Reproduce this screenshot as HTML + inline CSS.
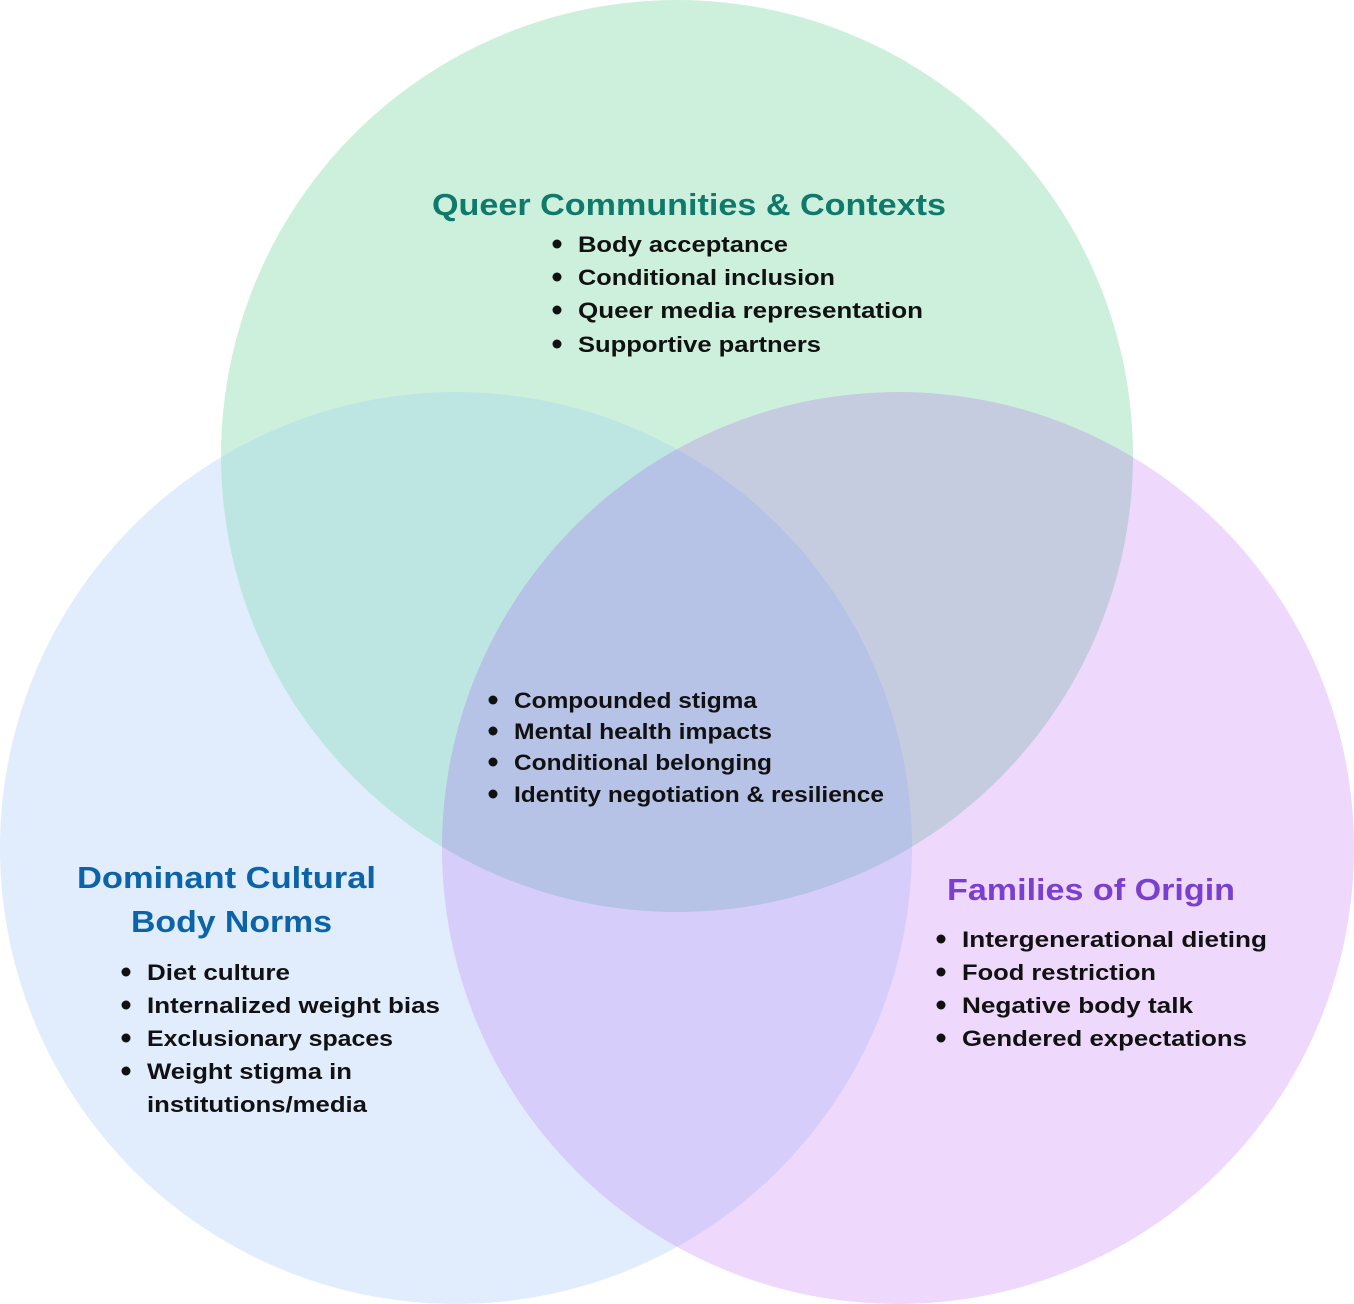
<!DOCTYPE html>
<html><head><meta charset="utf-8"><style>
html,body{margin:0;padding:0;background:#fff;}
svg{display:block;}
text{font-family:"Liberation Sans",sans-serif;font-weight:bold;}
.i{font-size:22px;fill:#111;}
.b{font-size:22px;fill:#111;}
</style></head><body>
<svg width="1354" height="1304" viewBox="0 0 1354 1304" xmlns="http://www.w3.org/2000/svg">
<defs>
<clipPath id="cT"><circle cx="677" cy="456" r="456"/></clipPath>
<clipPath id="cL"><circle cx="456" cy="848" r="456"/></clipPath>
<clipPath id="cR"><circle cx="898" cy="848" r="456"/></clipPath>
</defs>
<circle cx="677" cy="456" r="456" fill="#cdf0dd"/>
<circle cx="456" cy="848" r="456" fill="#e1edfc"/>
<circle cx="898" cy="848" r="456" fill="#eed9fc"/>
<g clip-path="url(#cL)"><circle cx="898" cy="848" r="456" fill="#d7cdfb"/></g>
<g clip-path="url(#cT)"><circle cx="456" cy="848" r="456" fill="#bde6e2"/></g>
<g clip-path="url(#cT)"><circle cx="898" cy="848" r="456" fill="#c5cce0"/></g>
<g clip-path="url(#cT)"><g clip-path="url(#cL)"><circle cx="898" cy="848" r="456" fill="#b6c2e6"/></g></g>

<g lengthAdjust="spacingAndGlyphs">
<text x="432" y="215" font-size="31" fill="#0f7a6b" textLength="514" lengthAdjust="spacingAndGlyphs">Queer Communities &amp; Contexts</text>
<g class="i">
<circle cx="557" cy="244" r="4.5" fill="#111"/><text x="578" y="252" class="b" textLength="210" lengthAdjust="spacingAndGlyphs">Body acceptance</text>
<circle cx="557" cy="277" r="4.5" fill="#111"/><text x="578" y="285" class="b" textLength="257" lengthAdjust="spacingAndGlyphs">Conditional inclusion</text>
<circle cx="557" cy="310" r="4.5" fill="#111"/><text x="578" y="318" class="b" textLength="345" lengthAdjust="spacingAndGlyphs">Queer media representation</text>
<circle cx="557" cy="344" r="4.5" fill="#111"/><text x="578" y="352" class="b" textLength="243" lengthAdjust="spacingAndGlyphs">Supportive partners</text>
</g>
<g class="i">
<circle cx="493" cy="700" r="4.5" fill="#111"/><text x="514" y="708" class="b" textLength="243" lengthAdjust="spacingAndGlyphs">Compounded stigma</text>
<circle cx="493" cy="731" r="4.5" fill="#111"/><text x="514" y="739" class="b" textLength="258" lengthAdjust="spacingAndGlyphs">Mental health impacts</text>
<circle cx="493" cy="762" r="4.5" fill="#111"/><text x="514" y="770" class="b" textLength="258" lengthAdjust="spacingAndGlyphs">Conditional belonging</text>
<circle cx="493" cy="794" r="4.5" fill="#111"/><text x="514" y="802" class="b" textLength="370" lengthAdjust="spacingAndGlyphs">Identity negotiation &amp; resilience</text>
</g>
<text x="77" y="888" font-size="31" fill="#0b63a8" textLength="299" lengthAdjust="spacingAndGlyphs">Dominant Cultural</text>
<text x="131" y="932" font-size="31" fill="#0b63a8" textLength="201" lengthAdjust="spacingAndGlyphs">Body Norms</text>
<g class="i">
<circle cx="126" cy="972" r="4.5" fill="#111"/><text x="147" y="980" class="b" textLength="143" lengthAdjust="spacingAndGlyphs">Diet culture</text>
<circle cx="126" cy="1005" r="4.5" fill="#111"/><text x="147" y="1013" class="b" textLength="293" lengthAdjust="spacingAndGlyphs">Internalized weight bias</text>
<circle cx="126" cy="1038" r="4.5" fill="#111"/><text x="147" y="1046" class="b" textLength="246" lengthAdjust="spacingAndGlyphs">Exclusionary spaces</text>
<circle cx="126" cy="1071" r="4.5" fill="#111"/><text x="147" y="1079" class="b" textLength="205" lengthAdjust="spacingAndGlyphs">Weight stigma in</text>
<text x="147" y="1112" class="b" textLength="220" lengthAdjust="spacingAndGlyphs">institutions/media</text>
</g>
<text x="947" y="900" font-size="31" fill="#7a3fcf" textLength="288" lengthAdjust="spacingAndGlyphs">Families of Origin</text>
<g class="i">
<circle cx="941" cy="939" r="4.5" fill="#111"/><text x="962" y="947" class="b" textLength="305" lengthAdjust="spacingAndGlyphs">Intergenerational dieting</text>
<circle cx="941" cy="972" r="4.5" fill="#111"/><text x="962" y="980" class="b" textLength="194" lengthAdjust="spacingAndGlyphs">Food restriction</text>
<circle cx="941" cy="1005" r="4.5" fill="#111"/><text x="962" y="1013" class="b" textLength="231" lengthAdjust="spacingAndGlyphs">Negative body talk</text>
<circle cx="941" cy="1038" r="4.5" fill="#111"/><text x="962" y="1046" class="b" textLength="285" lengthAdjust="spacingAndGlyphs">Gendered expectations</text>
</g>
</g>
</svg>
</body></html>
